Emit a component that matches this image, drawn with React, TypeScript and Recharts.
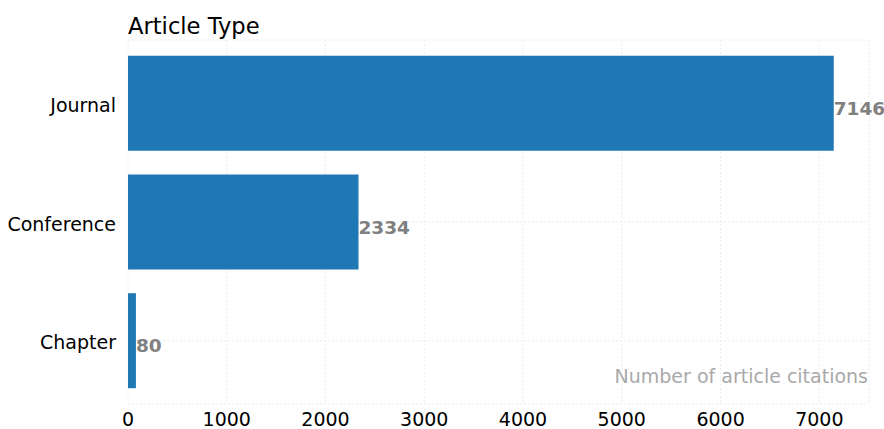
import { BarChart, Bar, XAxis, YAxis, CartesianGrid, LabelList } from 'recharts';

const categories = ['Journal', 'Conference', 'Chapter'];
const citations = [7146, 2334, 80];
const xTicks = [0, 1000, 2000, 3000, 4000, 5000, 6000, 7000];
const xMax = 7503;

const FONT = '"DejaVu Sans", sans-serif';

const data = categories.map((name, i) => ({ name, value: citations[i] }));

const renderValue = (props: any) => {
  const { x, y, width, height, value } = props;
  return (
    <text
      x={Number(x) + Number(width)}
      y={Number(y) + Number(height) / 2 + 5}
      dominantBaseline="central"
      fill="#808080"
      fontWeight="bold"
      fontSize={18.5}
      fontFamily={FONT}
    >
      {value}
    </text>
  );
};

export default function App() {
  return (
    <div style={{ position: 'absolute', left: 0, top: 0, width: 884, height: 429, background: '#fff', fontFamily: FONT }}>
      <div style={{ position: 'absolute', left: 128, top: 12, fontSize: 22.6, color: '#000', lineHeight: '28px' }}>
        Article Type
      </div>
      <BarChart
        width={884}
        height={429}
        data={data}
        layout="vertical"
        margin={{ top: 40, right: 15, bottom: 0, left: 0 }}
        barCategoryGap="10%"
      >
        <CartesianGrid stroke="#ececec" strokeDasharray="2 2" />
        <XAxis
          type="number"
          domain={[0, xMax]}
          ticks={xTicks}
          axisLine={false}
          tickLine={false}
          tickMargin={3}
          height={25}
          tick={{ fill: '#000', fontSize: 19, fontFamily: FONT }}
          interval={0}
        />
        <YAxis
          type="category"
          dataKey="name"
          width={128}
          axisLine={false}
          tickLine={false}
          tickMargin={6}
          padding={{ top: 4, bottom: 4 }}
          tick={{ fill: '#000', fontSize: 19, fontFamily: FONT, dy: 2 }}
        />
        <Bar dataKey="value" fill="#1f77b4" isAnimationActive={false}>
          <LabelList dataKey="value" content={renderValue} />
        </Bar>
      </BarChart>
      <div style={{ position: 'absolute', right: 16, top: 363, fontSize: 19, color: '#a9a9a9', lineHeight: '26px' }}>
        Number of article citations
      </div>
    </div>
  );
}
